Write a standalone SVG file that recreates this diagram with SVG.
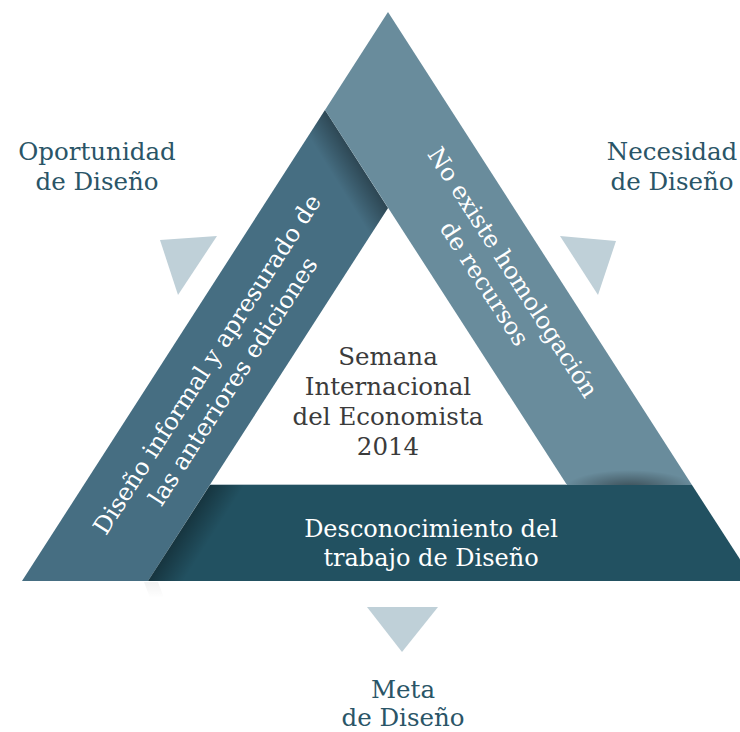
<svg xmlns="http://www.w3.org/2000/svg" width="740" height="732" viewBox="0 0 740 732">
  <style>
    .lbl { font-family: "DejaVu Serif", "Liberation Serif", serif; font-size: 24.5px; fill: #2a5567; text-anchor: middle; }
    .ctr { font-family: "DejaVu Serif", "Liberation Serif", serif; font-size: 24.5px; fill: #3b3b3b; text-anchor: middle; }
    .band { font-family: "DejaVu Serif", "Liberation Serif", serif; font-size: 24px; fill: #ffffff; text-anchor: middle; }
    .mark { fill: #bfd0d8; }
  </style>
  <defs>
    <linearGradient id="shL" gradientUnits="userSpaceOnUse" x1="356" y1="159" x2="332" y2="174">
      <stop offset="0" stop-color="#000" stop-opacity="0.35"/>
      <stop offset="1" stop-color="#000" stop-opacity="0"/>
    </linearGradient>
    <linearGradient id="shB" gradientUnits="userSpaceOnUse" x1="179" y1="533" x2="204" y2="549">
      <stop offset="0" stop-color="#000" stop-opacity="0.35"/>
      <stop offset="1" stop-color="#000" stop-opacity="0"/>
    </linearGradient>
    <radialGradient id="shR" cx="0.5" cy="0.5" r="0.5">
      <stop offset="0" stop-color="#000" stop-opacity="0.45"/>
      <stop offset="1" stop-color="#000" stop-opacity="0"/>
    </radialGradient>
    <clipPath id="clipR">
      <polygon points="388,12 692,485 567,485 325,110"/>
    </clipPath>
    <linearGradient id="shFoot" x1="0" y1="0" x2="0" y2="1">
      <stop offset="0" stop-color="#000" stop-opacity="0.05"/>
      <stop offset="1" stop-color="#000" stop-opacity="0"/>
    </linearGradient>
  </defs>

  <g id="band-left">
    <polygon points="325,110 388,208 148,581 22,581" fill="#466e82"/>
    <polygon points="325,110 388,208 148,581 22,581" fill="url(#shL)"/>
    <polygon points="144,582 158,582 164,598 150,598" fill="url(#shFoot)"/>
    <g transform="translate(219,372) rotate(-57.2)">
      <text class="band" x="0" y="-6">Diseño informal y apresurado de</text>
      <text class="band" x="0" y="25">las anteriores ediciones</text>
    </g>
  </g>

  <g id="band-right">
    <polygon points="388,12 692,485 567,485 325,110" fill="#698c9c"/>
    <ellipse cx="630" cy="488" rx="65" ry="18" fill="url(#shR)" clip-path="url(#clipR)"/>
    <g transform="translate(496,276) rotate(57.2)">
      <text class="band" x="6" y="-8">No existe homologación</text>
      <text class="band" x="0" y="22">de recursos</text>
    </g>
  </g>

  <g id="band-bottom">
    <polygon points="148,581 210,485 692,485 754,581" fill="#225161"/>
    <polygon points="148,581 210,485 692,485 754,581" fill="url(#shB)"/>
    <line x1="210" y1="484.5" x2="567" y2="484.5" stroke="#b8c6cc" stroke-width="1"/>
    <text class="band" x="431" y="537">Desconocimiento del</text>
    <text class="band" x="431" y="566">trabajo de Diseño</text>
  </g>

  <g id="center">
    <text class="ctr" x="388" y="365">Semana</text>
    <text class="ctr" x="388" y="395">Internacional</text>
    <text class="ctr" x="388" y="425">del Economista</text>
    <text class="ctr" x="388" y="455">2014</text>
  </g>

  <g id="oportunidad">
    <polygon class="mark" points="160,240 217,236 178,295"/>
    <text class="lbl" x="97" y="160">Oportunidad</text>
    <text class="lbl" x="97" y="190">de Diseño</text>
  </g>

  <g id="necesidad">
    <polygon class="mark" points="560,236 616,241 598,295"/>
    <text class="lbl" x="672" y="160">Necesidad</text>
    <text class="lbl" x="672" y="190">de Diseño</text>
  </g>

  <g id="meta">
    <polygon class="mark" points="367,607 438,607 402,652"/>
    <text class="lbl" x="403" y="698">Meta</text>
    <text class="lbl" x="403" y="726">de Diseño</text>
  </g>
</svg>
